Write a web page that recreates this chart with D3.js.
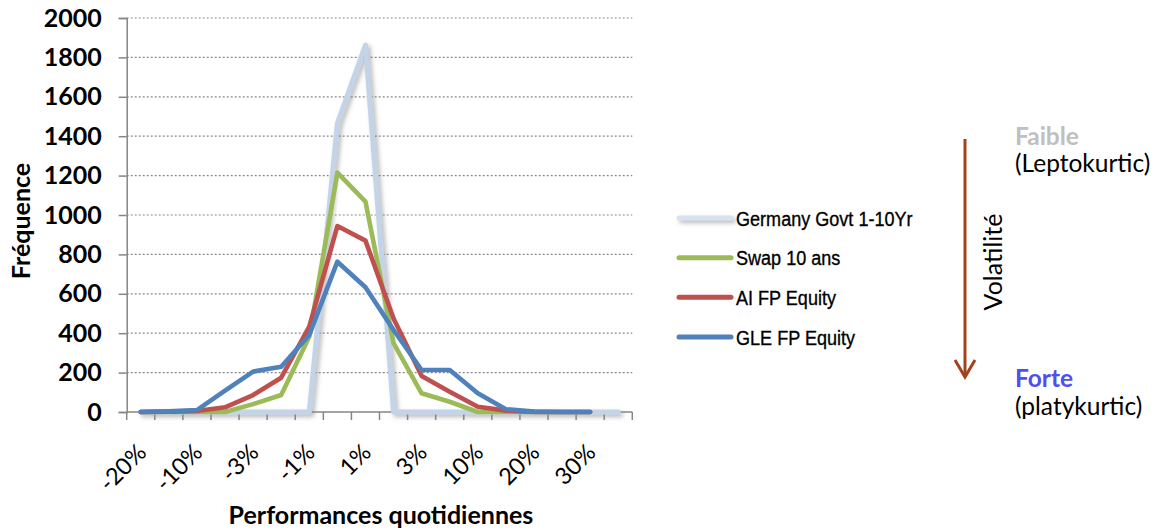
<!DOCTYPE html>
<html>
<head>
<meta charset="utf-8">
<script src="https://cdn.jsdelivr.net/npm/d3@7"></script>
<style>
  html, body { margin: 0; padding: 0; background: #fff; }
  svg { display: block; }
</style>
</head>
<body>
<svg id="chart" width="1155" height="530"></svg>
<script>
// Daily return buckets (every other one is labelled on the axis)
const categories = ["-20%","-15%","-10%","-5%","-3%","-2%","-1%","0%","1%","2%","3%","5%","10%","15%","20%","25%","30%","35%"];
const yTicks = [0,200,400,600,800,1000,1200,1400,1600,1800,2000];

// Frequency of daily returns per bucket
const germany = [0,0,0,0,0,0,0,1465,1863,0,0,0,0,0,0,0,0,0];
const swap    = [0,0,0,0,40,86,382,1215,1068,349,95,52,0,0,0,0,0];
const ai      = [0,2,5,24,86,174,433,944,870,475,183,103,27,7,0,0,0];
const gle     = [0,3,10,108,205,230,391,763,633,416,213,213,95,14,2,0,0];

const seriesNames  = ["Germany Govt 1-10Yr","Swap 10 ans","AI FP Equity","GLE FP Equity"];
const seriesValues = [germany, swap, ai, gle];
const seriesColors = ["#c3d4e9","#9bbb59","#c0504d","#4f81bd"];

const FONT = "Lato, 'Open Sans', sans-serif";
const svg = d3.select("#chart");
const plotLeft = 126.7, plotRight = 632.3, plotTop = 18, plotBottom = 412;

const x = d3.scaleBand().domain(categories).range([plotLeft, plotRight]).padding(0);
const y = d3.scaleLinear().domain([0, 2000]).range([plotBottom, plotTop]);
const cx = c => x(c) + x.bandwidth() / 2;

// soft shadow used by the government bond line
const defs = svg.append("defs");
const f = defs.append("filter").attr("id", "shadow")
  .attr("filterUnits", "userSpaceOnUse")
  .attr("x", 0).attr("y", 0).attr("width", 1155).attr("height", 530);
f.append("feDropShadow").attr("dx", 2.5).attr("dy", 2.5).attr("stdDeviation", 2)
  .attr("flood-color", "#7f7f7f").attr("flood-opacity", 0.55);

// dotted horizontal gridlines
svg.append("g").selectAll("line").data(yTicks.filter(d => d > 0)).join("line")
  .attr("x1", plotLeft).attr("x2", plotRight)
  .attr("y1", d => y(d)).attr("y2", d => y(d))
  .attr("stroke", "#8a8a8a").attr("stroke-width", 1.2)
  .attr("stroke-dasharray", "2,2");

// y axis
const yAxis = svg.append("g").attr("transform", `translate(${plotLeft},0)`)
  .call(d3.axisLeft(y).tickValues(yTicks).tickSize(8).tickPadding(17).tickFormat(d3.format("d")));
yAxis.select(".domain").attr("stroke", "#868686").attr("stroke-width", 1.5);
yAxis.selectAll(".tick line").attr("stroke", "#868686").attr("stroke-width", 1.5);
yAxis.selectAll(".tick text")
  .attr("font-family", FONT)
  .attr("font-weight", "bold").attr("font-size", 25).attr("fill", "#000");

// x axis: ticks sit between buckets
const xAxisG = svg.append("g");
xAxisG.append("line").attr("x1", plotLeft).attr("x2", plotRight).attr("y1", plotBottom).attr("y2", plotBottom)
  .attr("stroke", "#868686").attr("stroke-width", 1.5);
const boundaries = categories.map(c => x(c)).concat([plotRight]);
xAxisG.selectAll("line.tk").data(boundaries).join("line").attr("class", "tk")
  .attr("x1", d => d).attr("x2", d => d).attr("y1", plotBottom).attr("y2", plotBottom + 8)
  .attr("stroke", "#868686").attr("stroke-width", 1.5);
xAxisG.selectAll("text").data(categories.filter((c, i) => i % 2 === 0)).join("text")
  .attr("transform", d => `translate(${cx(d) + 7},${plotBottom + 42}) rotate(-45)`)
  .attr("text-anchor", "end")
  .attr("font-family", FONT)
  .attr("font-size", 23.5).attr("fill", "#000")
  .text(d => d);

// series lines
const line = d3.line().x((d, i) => cx(categories[i])).y(d => y(d));
const plot = svg.append("g");
seriesValues.forEach((vals, k) => {
  plot.append("path").datum(vals)
    .attr("d", line)
    .attr("fill", "none")
    .attr("stroke", seriesColors[k])
    .attr("stroke-width", k === 0 ? 5 : 4.6)
    .attr("stroke-linejoin", "round")
    .attr("stroke-linecap", "round")
    .attr("filter", k === 0 ? "url(#shadow)" : null);
});

// axis titles
svg.append("text")
  .attr("transform", `translate(30,221) rotate(-90)`)
  .attr("text-anchor", "middle")
  .attr("font-family", FONT)
  .attr("font-weight", "bold").attr("font-size", 25)
  .text("Fréquence");
svg.append("text")
  .attr("x", 381).attr("y", 524)
  .attr("text-anchor", "middle")
  .attr("font-family", FONT)
  .attr("font-weight", "bold").attr("font-size", 25)
  .text("Performances quotidiennes");

// legend
const legend = svg.append("g");
const legendY = d3.scalePoint().domain(seriesNames).range([218, 337]);
seriesNames.forEach((name, k) => {
  const ly = legendY(name);
  legend.append("line")
    .attr("x1", 679).attr("x2", 731).attr("y1", ly).attr("y2", ly)
    .attr("stroke", k === 0 ? "#d6e2f0" : seriesColors[k]).attr("stroke-width", 5)
    .attr("stroke-linecap", "round")
    .attr("filter", k === 0 ? "url(#shadow)" : null);
  legend.append("text")
    .attr("transform", `translate(736,${ly + 7.5}) scale(0.86,1)`)
    .attr("font-family", "'Liberation Sans', Arial, sans-serif")
    .attr("font-size", 21).attr("fill", "#000")
    .attr("stroke", "#000").attr("stroke-width", 0.35)
    .text(name);
});

// volatility arrow
const arrowColor = "#a2421c";
svg.append("line").attr("x1", 965).attr("x2", 965).attr("y1", 139).attr("y2", 376)
  .attr("stroke", arrowColor).attr("stroke-width", 3);
svg.append("path").attr("d", "M955,360 L965,377 L975,360")
  .attr("fill", "none").attr("stroke", arrowColor).attr("stroke-width", 3)
  .attr("stroke-linejoin", "miter");
svg.append("text")
  .attr("transform", `translate(1002,262) rotate(-90)`)
  .attr("text-anchor", "middle")
  .attr("font-family", FONT)
  .attr("font-size", 25).attr("fill", "#000")
  .text("Volatilité");

const notes = [
  {t: "Faible", y: 145, c: "#bfbfbf", w: "bold"},
  {t: "(Leptokurtic)", y: 172, c: "#000", w: "normal"},
  {t: "Forte", y: 387, c: "#4f4ff0", w: "bold"},
  {t: "(platykurtic)", y: 415, c: "#000", w: "normal"}
];
svg.append("g").selectAll("text").data(notes).join("text")
  .attr("x", 1015).attr("y", d => d.y)
  .attr("font-family", FONT)
  .attr("font-size", 24.5).attr("font-weight", d => d.w).attr("fill", d => d.c)
  .text(d => d.t);
</script>
</body>
</html>
